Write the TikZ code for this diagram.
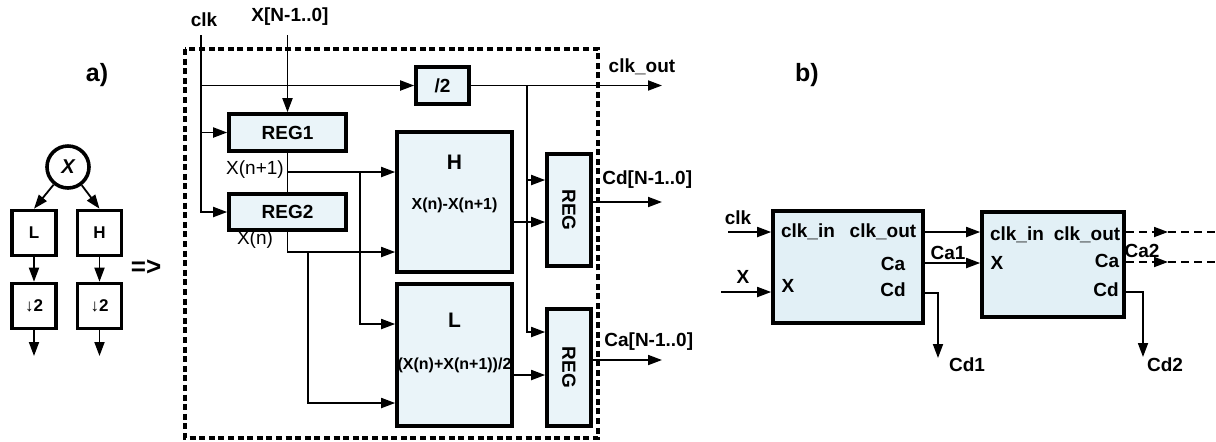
\documentclass[tikz,border=0pt]{standalone}
\usepackage{fontspec}
\setmainfont{Liberation Sans}
\usepackage{graphicx}
\usepackage{tikz}
\usetikzlibrary{arrows.meta, positioning}
\definecolor{regfill}{RGB}{234,244,249}
\definecolor{cellfill}{RGB}{226,240,246}

\begin{document}
\begin{tikzpicture}[
          x=0.5pt, y=-0.5pt,
          lbl/.style={font=\fontsize{9.5}{11}\selectfont\bfseries, inner sep=0pt},
          thinlbl/.style={font=\fontsize{9.5}{11}\selectfont, inner sep=0pt},
          biglbl/.style={font=\fontsize{12.5}{14}\selectfont\bfseries, inner sep=0pt},
          sbox/.style={rectangle, draw, line width=1.8pt, minimum width=22pt, minimum height=22.5pt, inner sep=0pt, font=\fontsize{8.5}{10}\selectfont\bfseries},
          circ/.style={circle, draw, line width=1.8pt, minimum size=21pt, inner sep=0pt, font=\fontsize{10}{12}\selectfont\bfseries\itshape},
          blk/.style={rectangle, draw, line width=1.8pt, fill=regfill, inner sep=0pt, font=\fontsize{9.5}{11}\selectfont\bfseries},
          cell/.style={rectangle, draw, line width=1.8pt, fill=cellfill, inner sep=0pt},
          dashbox/.style={line width=1.6pt, dash pattern=on 3pt off 1.8pt},
          arr/.style={-{Triangle[length=7pt, width=5pt]}, line width=0.9pt},
          dashout/.style={line width=0.9pt, dash pattern=on 4pt off 2.5pt}
        ]
          \useasboundingbox (0,0) rectangle (1216,441);

          % a) filter bank
          \node[biglbl] (ta) at (97,75) {a)};
          \node[circ] (xc) at (68,167) {X};
          \node[sbox] (lo) at (34,233) {L};
          \node[sbox] (hi) at (99.5,233) {H};
          \node[sbox] (dl) at (34,306) {{\mdseries ↓}2};
          \node[sbox] (dh) at (99.5,306) {{\mdseries ↓}2};
          \coordinate (dlout) at (34,356);
          \coordinate (dhout) at (99.5,356);
          \node[font=\fontsize{13}{15}\selectfont\bfseries, inner sep=0pt] (impl) at (146,268) {=>};

          \draw[arr] (xc) -- (lo.north);
          \draw[arr] (xc) -- (hi.north);
          \draw[arr] (lo) -- (dl);
          \draw[arr] (hi) -- (dh);
          \draw[arr] (dl) -- (dlout);
          \draw[arr] (dh) -- (dhout);

          % one stage
          \draw[dashbox] (185,49) rectangle (598,438);
          \node[lbl] (clk) at (204,20) {clk};
          \node[lbl] (xin) at (290,17) {X[N-1..0]};
          \coordinate (clktop) at (201,35);
          \coordinate (xtop) at (287.5,35);

          \node[blk, minimum width=58.5pt, minimum height=18.5pt] (reg1) at (287.5,132.5) {REG1};
          \node[blk, minimum width=58.5pt, minimum height=18pt] (reg2) at (287.5,212) {REG2};
          \node[blk, minimum width=26.5pt, minimum height=18.5pt] (div2) at (442.5,85.5) {/2};
          \node[blk, minimum width=57.5pt, minimum height=70pt] (hblk) at (454.5,202) {};
          \node[blk, minimum width=57.5pt, minimum height=71pt] (lblk) at (454.5,355) {};
          \node[font=\fontsize{10.5}{12}\selectfont\bfseries] (htxt) at (454.5,162) {H};
          \node[font=\fontsize{8}{10}\selectfont\bfseries, inner sep=0pt] (hfun) at (454.5,205) {X(n)-X(n+1)};
          \node[font=\fontsize{10.5}{12}\selectfont\bfseries] (ltxt) at (454.5,320) {L};
          \node[font=\fontsize{8}{10}\selectfont\bfseries, inner sep=0pt] (lfun) at (454.5,365) {(X(n)+X(n+1))/2};
          \node[blk, minimum width=22pt, minimum height=56pt] (regd) at (569,210) {\rotatebox{-90}{REG}};
          \node[blk, minimum width=22pt, minimum height=58.5pt] (rega) at (569,367.5) {\rotatebox{-90}{REG}};

          \coordinate (xn1) at (287.5,172);
          \coordinate (b1) at (360,172);
          \coordinate (b2) at (308,252);
          \coordinate (b3) at (527,85.5);
          \coordinate (ck1) at (527,180);
          \coordinate (clkout) at (662,85.5);
          \coordinate (cdout) at (662,202);
          \coordinate (caout) at (662,360);
          \node[thinlbl] (xn1lbl) at (255,170) {X(n+1)};
          \node[thinlbl] (xnlbl) at (255,240) {X(n)};
          \node[lbl] (clkoutlbl) at (642,67) {clk\_out};
          \node[lbl, anchor=west] (cdlbl) at (602,180) {Cd[N-1..0]};
          \node[lbl, anchor=west] (calbl) at (604,342) {Ca[N-1..0]};

          \draw[arr] (clktop) |- (reg2.west);
          \draw[arr] (reg1.west -| clktop) -- (reg1.west);
          \draw[arr] (div2.west -| clktop) -- (div2.west);
          \draw[arr] (xtop) -- (reg1.north);
          \draw[line width=0.9pt] (reg1.south) -- (reg2.north);
          \draw[arr] (xn1) -- (xn1 -| hblk.west);
          \draw[arr] (b1) |- ([yshift=15.5pt]lblk.west);
          \draw[arr] (reg2.south) |- ([yshift=-25pt]hblk.west);
          \draw[arr] (b2) |- ([yshift=-24pt]lblk.west);
          \draw[arr] (div2.east) -- (clkout);
          \draw[arr] (b3) |- ([yshift=17.75pt]rega.west);
          \draw[arr] (ck1) -- (ck1 -| regd.west);
          \draw[arr] ([yshift=-10pt]hblk.east) -- ([yshift=-10pt]hblk.east -| regd.west);
          \draw[arr] ([yshift=-10pt]lblk.east) -- ([yshift=-10pt]lblk.east -| rega.west);
          \draw[arr] ([yshift=4pt]regd.east) -- (cdout);
          \draw[arr] ([yshift=3.75pt]rega.east) -- (caout);

          % b) cascade
          \node[biglbl] (tb) at (807,75) {b)};
          \node[cell, minimum width=75pt, minimum height=56pt] (cellA) at (848,267) {};
          \node[cell, minimum width=71pt, minimum height=52.5pt] (cellB) at (1053,264.5) {};
          \node[lbl] (ainclk) at (808,232) {clk\_in};
          \node[lbl] (aoutclk) at (883,232) {clk\_out};
          \node[lbl] (aca) at (893,264) {Ca};
          \node[lbl] (acd) at (893,290) {Cd};
          \node[lbl] (ax) at (788,286) {X};
          \node[lbl] (binclk) at (1017,235) {clk\_in};
          \node[lbl] (boutclk) at (1087,235) {clk\_out};
          \node[lbl] (bx) at (997,263) {X};
          \node[lbl] (bca) at (1107,261) {Ca};
          \node[lbl] (bcd) at (1106,290) {Cd};

          \coordinate (clkb) at (728,232);
          \coordinate (xb) at (721,292);
          \coordinate (ca1) at (923,263);
          \coordinate (cd1) at (938,358);
          \coordinate (cd2) at (1143,357);
          \coordinate (ck2) at (1168,232);
          \coordinate (ckend) at (1216,232);
          \coordinate (ca2) at (1168,262);
          \coordinate (caend) at (1216,262);
          \node[lbl] (clkblbl) at (738,218) {clk};
          \node[lbl] (xblbl) at (743,277) {X};
          \node[lbl] (ca1lbl) at (948,253) {Ca1};
          \node[lbl] (cd1lbl) at (967,365) {Cd1};
          \node[lbl] (ca2lbl) at (1142,251) {Ca2};
          \node[lbl] (cd2lbl) at (1165,365) {Cd2};

          \draw[arr] (clkb) -- (clkb -| cellA.west);
          \draw[arr] (xb) -- (xb -| cellA.west);
          \draw[arr] (cellA.east |- clkb) -- (cellB.west |- clkb);
          \draw[arr] (ca1) -- (ca1 -| cellB.west);
          \draw[arr] ([yshift=-13pt]cellA.east) -| (cd1);
          \draw[arr] ([yshift=-13.75pt]cellB.east) -| (cd2);
          \draw[arr, dashout] (cellB.east |- ck2) -- (ck2);
          \draw[dashout] (ck2) -- (ckend);
          \draw[arr, dashout] (cellB.east |- ca2) -- (ca2);
          \draw[dashout] (ca2) -- (caend);
        \end{tikzpicture}
\end{document}
